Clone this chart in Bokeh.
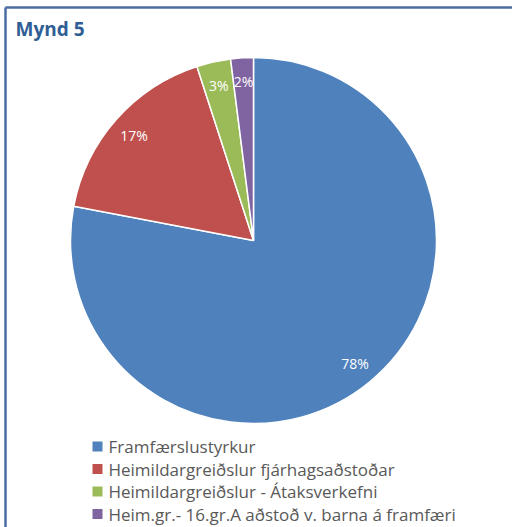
import math
from bokeh.plotting import figure
from bokeh.models import Range1d, ColumnDataSource
from bokeh.core.properties import value
from bokeh.embed import file_html
from bokeh.resources import INLINE

# ---- data ----
title = "Mynd 5"
categories = [
    "Framfærslustyrkur",
    "Heimildargreiðslur fjárhagsaðstoðar",
    "Heimildargreiðslur - Átaksverkefni",
    "Heim.gr.- 16.gr.A aðstoð v. barna á framfæri",
]
shares = [78, 17, 3, 2]
labels = ["78%", "17%", "3%", "2%"]
colors = ["#4F81BD", "#C0504D", "#9BBB59", "#8064A2"]

# ---- layout ----
W, H = 512, 527
def fx(px):
    return px
def fy(py):
    return H - py

p = figure(width=W, height=H, x_range=Range1d(0, W), y_range=Range1d(0, H),
           x_axis_type=None, y_axis_type=None, output_backend="svg",
           toolbar_location=None, min_border=0)
p.grid.visible = False
p.outline_line_color = None
p.background_fill_color = "white"
p.border_fill_color = "white"

# frame lines
p.line(x=[fx(5), fx(5)], y=[0, fy(7)], line_color="#4A6DA0", line_width=2.5)
p.line(x=[fx(5), W], y=[fy(7), fy(7)], line_color="#4A6DA0", line_width=2.5)

# title
p.text(x=[fx(15)], y=[fy(28)], text=[title], text_font=value("Open Sans"),
       text_font_style="bold", text_font_size="19px", text_color="#2F5E94",
       text_align="left", text_baseline="middle")

# pie
cx, cy, r = fx(253), fy(240), 183
total = float(sum(shares))
starts, ends, lx, ly = [], [], [], []
cum = 0.0
for s in shares:
    a0 = cum / total
    cum += s
    a1 = cum / total
    starts.append(math.pi / 2 - 2 * math.pi * a0)
    ends.append(math.pi / 2 - 2 * math.pi * a1)
    mid = math.pi / 2 - 2 * math.pi * (a0 + a1) / 2
    lx.append(cx + 0.87 * r * math.cos(mid))
    ly.append(cy + 0.87 * r * math.sin(mid))

src = ColumnDataSource(dict(start=starts, end=ends, color=colors, lx=lx, ly=ly, label=labels))
p.wedge(x=cx, y=cy, radius=r, start_angle="start", end_angle="end",
        direction="clock", fill_color="color", line_color="white",
        line_width=1.5, source=src)
p.text(x="lx", y="ly", text="label", source=src, text_font=value("Open Sans"),
       text_font_size="14px", text_color="white", text_align="center",
       text_baseline="middle")

# legend
leg_y0, leg_dy = 446, 22.5
ys = [fy(leg_y0 + i * leg_dy) for i in range(len(categories))]
p.rect(x=[fx(97)] * len(categories), y=ys, width=10, height=10,
       fill_color=colors, line_color=None)
p.text(x=[fx(108)] * len(categories), y=ys, text=categories,
       text_font=value("Open Sans"), text_font_size="17px", text_color="#595959",
       text_align="left", text_baseline="middle")

open("out.html", "w").write(file_html(p, INLINE))
